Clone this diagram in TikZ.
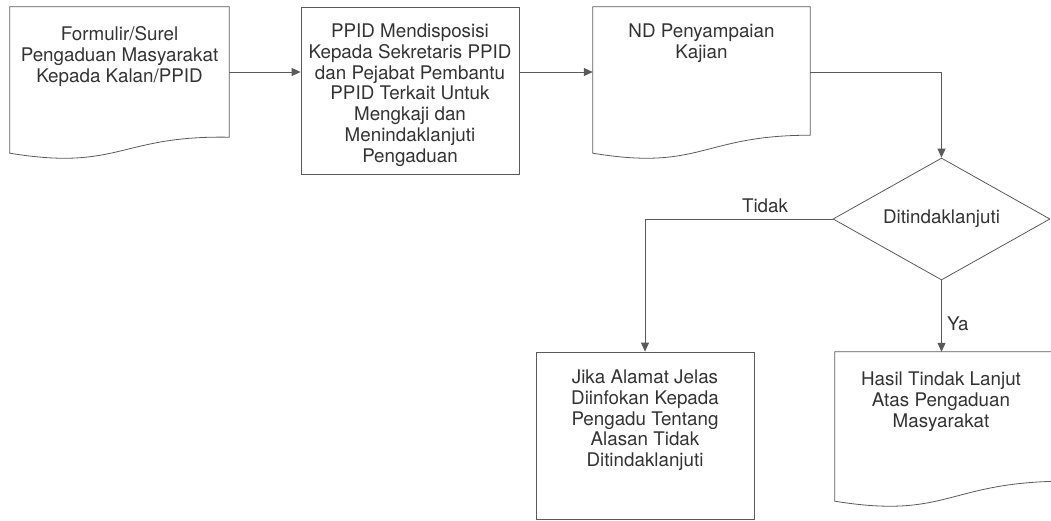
\documentclass[tikz,border=0pt]{standalone}
\usepackage{fontspec}
\setmainfont{TeX Gyre Heros}
\usetikzlibrary{arrows.meta,shapes.geometric,calc}
\definecolor{ln}{HTML}{5A5A5A}
\definecolor{tx}{HTML}{333333}
\begin{document}
\begin{tikzpicture}[x=1pt,y=-1pt,
  shapeline/.style={draw=ln, line width=0.8pt},
  box/.style={rectangle, draw=ln, line width=0.8pt, inner sep=0pt},
  docbox/.style={rectangle, inner sep=0pt},
  txt/.style={font=\fontsize{18.8}{20.8}\selectfont, text=tx, align=center, inner sep=0pt, anchor=north},
  lbl/.style={font=\fontsize{18.8}{20.8}\selectfont, text=tx, inner sep=0pt},
  arr/.style={draw=ln, line width=0.8pt, -{Triangle[length=9pt,width=8pt]}},
  dec/.style={diamond, draw=ln, line width=0.8pt, minimum width=217pt, minimum height=122pt, inner sep=0pt, aspect=1.78, font=\fontsize{18.8}{20.8}\selectfont, text=tx}
]
\useasboundingbox (0,0) rectangle (1051,520);
\clip (0,0) rectangle (1051,520);

% document 1
\node[docbox, minimum width=219pt, minimum height=146pt] (b1) at (119.5,80) {};
\draw[shapeline] (b1.south west) -- (b1.north west) -- (b1.north east) -- ($(b1.south east)+(0,-16)$)
  .. controls ($(b1.south)+(0,-18)$) and ($(b1.south)+(0,18)$) .. (b1.south west) -- cycle;
\node[txt] (t1) at (119.5,26.5) {Formulir/Surel\\Pengaduan Masyarakat\\Kepada Kalan/PPID};

% process 2
\node[box, minimum width=218pt, minimum height=167pt] (b2) at (410,90.5) {};
\node[txt] (t2) at (410,23.5) {PPID Mendisposisi\\Kepada Sekretaris PPID\\dan Pejabat Pembantu\\PPID Terkait Untuk\\Mengkaji dan\\Menindaklanjuti\\Pengaduan};

% document 3
\node[docbox, minimum width=217pt, minimum height=146pt] (b3) at (701.5,80) {};
\draw[shapeline] (b3.south west) -- (b3.north west) -- (b3.north east) -- ($(b3.south east)+(0,-18)$)
  .. controls ($(b3.south)+(0,-18)$) and ($(b3.south)+(0,18)$) .. (b3.south west) -- cycle;
\node[txt] (t3) at (701.5,23.5) {ND Penyampaian\\Kajian};

% decision
\node[dec] (d) at (941.5,219) {Ditindaklanjuti};

% process 4
\node[box, minimum width=218pt, minimum height=167pt] (b4) at (645,435.5) {};
\node[txt] (t4) at (645,369.5) {Jika Alamat Jelas\\Diinfokan Kepada\\Pengadu Tentang\\Alasan Tidak\\Ditindaklanjuti};

% document 5
\node[docbox, minimum width=223pt, minimum height=149pt] (b5) at (946.5,426.5) {};
\draw[shapeline] (b5.south west) -- (b5.north west) -- (b5.north east) -- ($(b5.south east)+(0,-20)$)
  .. controls ($(b5.south)+(0,-18)$) and ($(b5.south)+(0,18)$) .. (b5.south west) -- cycle;
\node[txt] (t5) at (941,371.5) {Hasil Tindak Lanjut\\Atas Pengaduan\\Masyarakat};

% connectors
\coordinate (r1) at (0,72);
\draw[arr] (b1.east |- r1) -- (b2.west |- r1);
\draw[arr] (b2.east |- r1) -- (b3.west |- r1);
\draw[arr] (b3.east |- r1) -| (d.north);
\draw[arr] (d.west) -| (b4.north);
\draw[arr] (d.south) -- (d.south |- b5.north);

\node[lbl, anchor=base] (tidak) at (765,212) {Tidak};
\node[lbl, anchor=base west] (ya) at (947,330) {Ya};
\end{tikzpicture}
\end{document}
